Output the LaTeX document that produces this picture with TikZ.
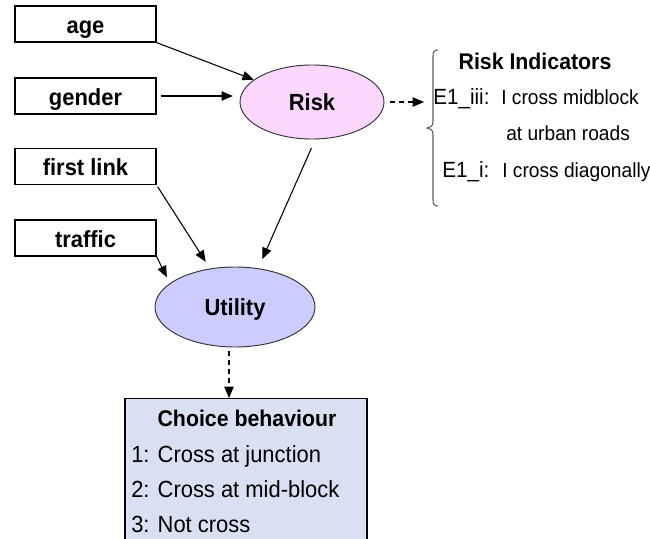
\documentclass[tikz,border=0pt]{standalone}
\usepackage{fontspec}
\setmainfont[FakeStretch=0.94]{Liberation Sans}
\usetikzlibrary{shapes.geometric,arrows.meta,calc}
\definecolor{riskfill}{HTML}{FCD7FC}
\definecolor{utilfill}{HTML}{CCCCFF}
\definecolor{choicefill}{HTML}{D9E0F1}
\definecolor{bracegray}{HTML}{5A5A5A}

\begin{document}
\begin{tikzpicture}[x=0.75pt,y=-0.75pt,
  varbox/.style={draw, line width=0.9pt, minimum width=105.75pt, minimum height=27pt,
    inner sep=0pt, font=\bfseries\fontsize{17.5}{19}\selectfont, text height=14.2pt, text depth=0pt},
  latent/.style={ellipse, draw=black!80, line width=0.7pt, inner sep=0pt,
    font=\bfseries\fontsize{17.5}{19}\selectfont, text height=12.3pt, text depth=0pt},
  link/.style={-{Triangle[length=8.5pt,width=7pt]}, line width=0.8pt},
  dlink/.style={link, dash pattern=on 3.75pt off 3pt},
  headtext/.style={anchor=base, inner sep=0pt, font=\bfseries\fontsize{17}{19}\selectfont},
  codetext/.style={anchor=base west, inner sep=0pt, font=\fontsize{16.5}{18}\selectfont},
  phrasetext/.style={anchor=base west, inner sep=0pt, font=\fontsize{15.3}{17}\selectfont},
  itemtext/.style={anchor=base west, inner sep=0pt, font=\fontsize{17.5}{19}\selectfont},
]
\useasboundingbox (0,0) rectangle (650,539);
\clip (0,0) rectangle (650,539);

% observed variables
\node[varbox] (age)     at (85.5,24)    {age};
\node[varbox] (gender)  at (85.5,96)    {gender};
\node[varbox] (flink)   at (85.5,166.5) {first link};
\node[varbox] (traffic) at (85.5,238)   {traffic};

% latent variables
\node[latent, fill=riskfill, minimum width=108pt, minimum height=55.5pt] (risk) at (312,102) {Risk};
\node[latent, fill=utilfill, minimum width=120pt, minimum height=60pt] (util) at (235,307) {Utility};

% choice box (runs off the lower edge)
\node[draw, line width=0.9pt, fill=choicefill, minimum width=181.5pt, minimum height=120pt,
      inner sep=0pt, anchor=north] (choice) at (246,398) {};
\node[headtext] (ctitle) at (247,426) {Choice behaviour};
\node[itemtext] (c1) at (131,462) {1: Cross at junction};
\node[itemtext] (c2) at (131,497) {2: Cross at mid-block};
\node[itemtext] (c3) at (131,532) {3: Not cross};

% risk indicators with brace
\draw[bracegray, line width=0.8pt]
  (438,50) .. controls (434,50) and (433,52) .. (433,56) -- (433,122)
  .. controls (433,126) and (430,128) .. (427,128)
  .. controls (430,128) and (433,130) .. (433,134) -- (433,200)
  .. controls (433,204) and (434,206) .. (438,206);
\node[headtext] (ititle) at (535,69) {Risk Indicators};
\node[codetext] (e3)  at (433,104) {E1\_iii:};
\node[phrasetext] (e3a) at (501,104) {I cross midblock};
\node[phrasetext] (e3b) at (506,140) {at urban roads};
\node[codetext] (e1)  at (442,177) {E1\_i:};
\node[phrasetext] (e1a) at (502,177) {I cross diagonally};
\coordinate (bin) at (424,102);

% connectors
\draw[link] (age.south east) -- (risk);
\draw[link, shorten <=3pt, shorten >=5pt] (gender.east) -- (gender.east -| risk.west);
\draw[link, shorten <=1.5pt, shorten >=6pt] (flink.south east) -- (util.123);
\draw[link, shorten >=5pt] (traffic.south east) -- (util.160);
\draw[link, shorten <=7pt, shorten >=7.5pt] (risk.-85) -- (util.59);
\draw[dlink, shorten <=4pt] (risk.east) -- (bin);
\coordinate (uout) at ($(util.south)+(-6,0)$);
\draw[dlink, shorten <=3pt] (uout) -- (uout |- choice.north);
\end{tikzpicture}
\end{document}
